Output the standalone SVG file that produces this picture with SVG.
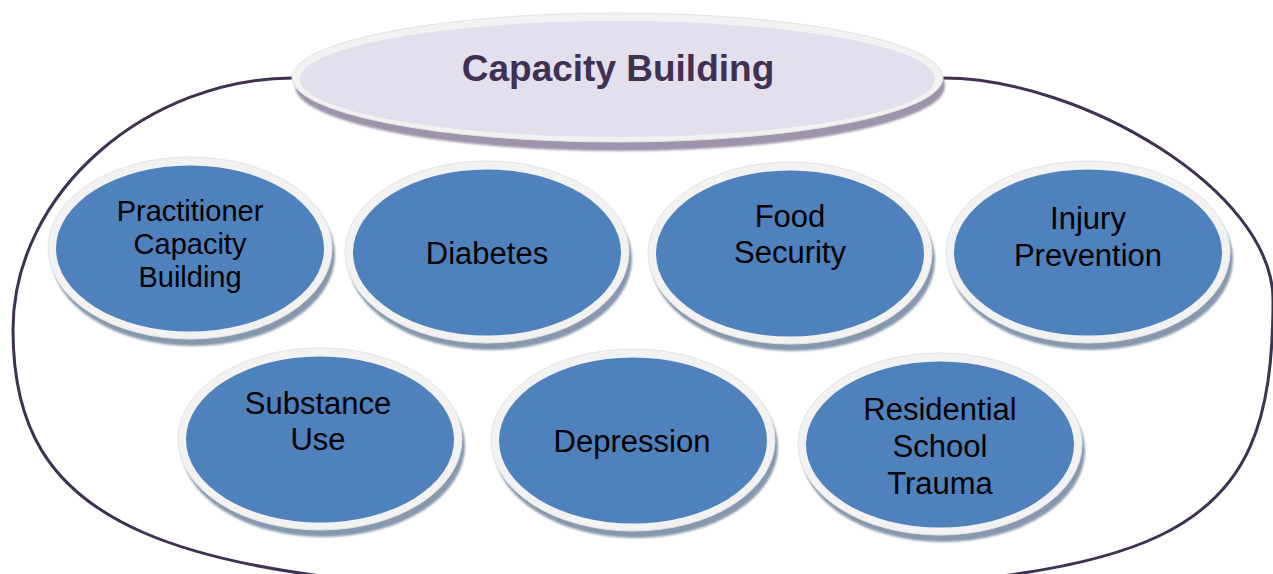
<svg xmlns="http://www.w3.org/2000/svg" width="1273" height="574" viewBox="0 0 1273 574">
  <defs>
    <filter id="soft" x="-5%" y="-5%" width="110%" height="115%">
      <feGaussianBlur stdDeviation="0.8"/>
    </filter>
    <style>
      .frame { fill: none; stroke: #3f3151; stroke-width: 3; }
      .shadow { fill: #8698ae; filter: url(#soft); }
      .tshadow { fill: #9d93aa; filter: url(#soft); }
      .ring { fill: #f2f2f2; stroke: #e4e4e4; stroke-width: 1; }
      .blue { fill: #4f81bd; }
      .lav { fill: #e4dfec; }
      .lbl { font-family: "Liberation Sans", Arial, sans-serif; font-size: 31px; fill: #000; text-anchor: middle; }
      .lbl.small { font-size: 29px; }
      .title { font-family: "Liberation Sans", Arial, sans-serif; font-size: 37px; font-weight: bold; fill: #3f3151; text-anchor: middle; }
    </style>
  </defs>
  <rect width="1273" height="574" fill="#ffffff"/>

  <g id="connectors">
    <path class="frame" d="M293,78 L943,78 C1080,78 1273,190 1273,300 C1273,540 1180,592 640,592 C150,592 13,520 13,330 C13,190 150,78 293,78 Z"/>
  </g>

  <g id="capacity-building">
    <ellipse class="tshadow" cx="620" cy="86" rx="325" ry="65"/>
    <ellipse class="ring" cx="617.5" cy="77.5" rx="325.5" ry="64.5"/>
    <ellipse class="lav" cx="617.5" cy="79" rx="317.5" ry="58"/>
    <text class="title" x="618" y="81">Capacity Building</text>
  </g>

  <g id="practitioner">
    <ellipse class="shadow" cx="193" cy="255" rx="142" ry="91"/>
    <ellipse class="ring" cx="190" cy="248" rx="142" ry="91"/>
    <ellipse class="blue" cx="190" cy="248.5" rx="134" ry="83"/>
    <text class="lbl small" x="190" y="221">Practitioner</text>
    <text class="lbl small" x="190" y="254">Capacity</text>
    <text class="lbl small" x="190" y="287">Building</text>
  </g>

  <g id="diabetes">
    <ellipse class="shadow" cx="490" cy="259" rx="142" ry="91"/>
    <ellipse class="ring" cx="487" cy="252" rx="142" ry="91"/>
    <ellipse class="blue" cx="487" cy="252.5" rx="134" ry="83"/>
    <text class="lbl" x="487" y="264">Diabetes</text>
  </g>

  <g id="food-security">
    <ellipse class="shadow" cx="793" cy="260" rx="142" ry="91"/>
    <ellipse class="ring" cx="790" cy="253" rx="142" ry="91"/>
    <ellipse class="blue" cx="790" cy="253.5" rx="134" ry="83"/>
    <text class="lbl" x="790" y="227">Food</text>
    <text class="lbl" x="790" y="263">Security</text>
  </g>

  <g id="injury-prevention">
    <ellipse class="shadow" cx="1091" cy="259" rx="142" ry="91"/>
    <ellipse class="ring" cx="1088" cy="252" rx="142" ry="91"/>
    <ellipse class="blue" cx="1088" cy="252.5" rx="134" ry="83"/>
    <text class="lbl" x="1088" y="229">Injury</text>
    <text class="lbl" x="1088" y="266">Prevention</text>
  </g>

  <g id="substance-use">
    <ellipse class="shadow" cx="323" cy="446" rx="142" ry="91"/>
    <ellipse class="ring" cx="320" cy="439" rx="142" ry="91"/>
    <ellipse class="blue" cx="320" cy="439.5" rx="134" ry="83"/>
    <text class="lbl" x="318" y="414">Substance</text>
    <text class="lbl" x="318" y="450">Use</text>
  </g>

  <g id="depression">
    <ellipse class="shadow" cx="636" cy="447" rx="142" ry="91"/>
    <ellipse class="ring" cx="633" cy="440" rx="142" ry="91"/>
    <ellipse class="blue" cx="633" cy="440.5" rx="134" ry="83"/>
    <text class="lbl" x="632" y="452">Depression</text>
  </g>

  <g id="residential-school-trauma">
    <ellipse class="shadow" cx="943" cy="451" rx="142" ry="91"/>
    <ellipse class="ring" cx="940" cy="444" rx="142" ry="91"/>
    <ellipse class="blue" cx="940" cy="444.5" rx="134" ry="83"/>
    <text class="lbl" x="940" y="420">Residential</text>
    <text class="lbl" x="940" y="457">School</text>
    <text class="lbl" x="940" y="494">Trauma</text>
  </g>
</svg>
